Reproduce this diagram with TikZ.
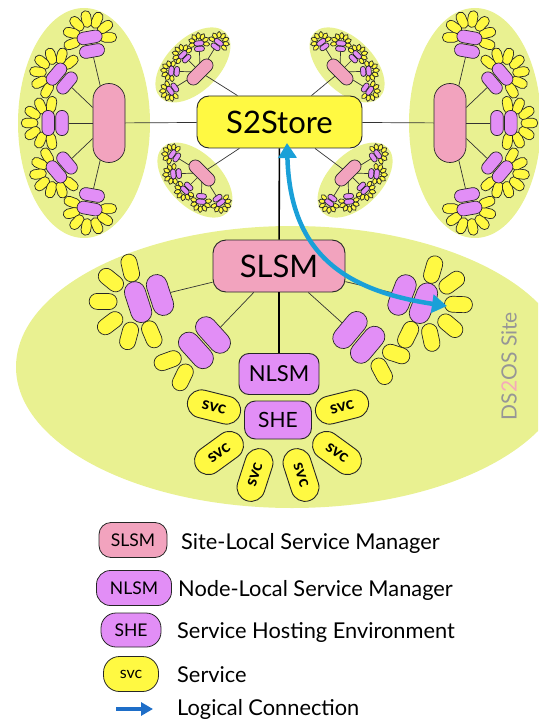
\documentclass[tikz,border=0pt]{standalone}
\usepackage{fontspec}
\setmainfont{Lato}
\usetikzlibrary{shapes.misc,arrows.meta}
\definecolor{sitegreen}{RGB}{233,241,145}
\definecolor{slsmpink}{RGB}{242,163,190}
\definecolor{nlsmpurple}{RGB}{226,142,246}
\definecolor{svcyellow}{RGB}{255,249,66}
\definecolor{arrowblue}{RGB}{26,160,216}
\definecolor{legendblue}{RGB}{30,110,200}
\definecolor{sitegray}{RGB}{150,150,150}
\definecolor{sitepink}{RGB}{245,170,185}
\tikzset{
  capsule/.style={rounded rectangle, draw=black!85, line width=0.7pt, inner sep=0pt, transform shape},
  pinkcap/.style={capsule, fill=slsmpink},
  purplecap/.style={capsule, fill=nlsmpurple, minimum width=42pt, minimum height=21pt},
  svccap/.style={capsule, fill=svcyellow, minimum width=28pt, minimum height=16pt},
  thinline/.style={draw=black!80, line width=0.7pt},
  thickline/.style={draw=black, line width=1.6pt},
  boxbase/.style={rectangle, draw=black!85, line width=0.9pt, inner sep=0pt},
  storebox/.style={boxbase, rounded corners=12pt, fill=svcyellow, minimum width=165pt, minimum height=52pt, font=\fontsize{31}{31}\selectfont},
  slsmbox/.style={boxbase, rounded corners=13pt, fill=slsmpink, minimum width=132pt, minimum height=52pt, font=\fontsize{31}{31}\selectfont},
  nlsmbox/.style={boxbase, rounded corners=10pt, fill=nlsmpurple, minimum width=80pt, minimum height=41pt, font=\fontsize{22}{22}\selectfont},
  shebox/.style={boxbase, rounded corners=11pt, fill=nlsmpurple, minimum width=67pt, minimum height=38pt, font=\fontsize{21}{21}\selectfont},
  svcbig/.style={rounded rectangle, draw=black!85, line width=0.9pt, inner sep=0pt, fill=svcyellow, minimum width=54pt, minimum height=28pt},
  svctext/.style={inner sep=0pt, font=\fontsize{17}{17}\selectfont\bfseries},
  legbox/.style={boxbase, line width=0.8pt, font=\fontsize{17.5}{17.5}\selectfont},
  legtext/.style={anchor=west, inner sep=0pt, font=\fontsize{21.8}{21.8}\selectfont},
  site/.pic={
    \fill[sitegreen] (-25,0) ellipse [x radius=66, y radius=115];
    \node[pinkcap, minimum width=79pt, minimum height=32pt, rotate=90] (-slsm) at (0,0) {};
    \foreach \i/\px/\py/\d in {1/-17/72/100, 2/-42/40/140, 3/-47/0/180, 4/-42/-40/220, 5/-17/-72/260}{
      \begin{scope}[shift={(\px,\py)}, rotate=\d, scale=0.6]
        \branch{-b\i}{31}{-100,-66,-33,0,33,66,100}
      \end{scope}
      \draw[thinline] (-slsm) -- (-b\i);
    }
  },
}
\newcommand\branch[3]{%
  \begin{scope}[shift={(23,0)}]
    \foreach \a in {#3}{\node[svccap, rotate=\a] at (\a:#2) {};}
    \node[purplecap, rotate=90] at (0,0) {};
  \end{scope}
  \node[purplecap, rotate=90] (#1) at (0,0) {};
}
\begin{document}
\begin{tikzpicture}[x=1pt,y=1pt]
\useasboundingbox (0,0) rectangle (538,-722);
% DS2OS site background
\begin{scope}
  \clip (0,0) rectangle (538,-722);
  \fill[sitegreen] (292,-367) ellipse [x radius=276, y radius=141];
\end{scope}
% other sites
\pic[rotate=0] (L) at (109,-123) {site};
\pic[rotate=180] (R) at (450,-123) {site};
\pic[rotate=-45, scale=0.4] (UL) at (200,-72) {site};
\pic[rotate=-135, scale=0.4] (UR) at (340,-72) {site};
\pic[rotate=45, scale=0.4] (LL) at (202,-173) {site};
\pic[rotate=135, scale=0.4] (LR) at (348,-173) {site};
% S2Store
\node[storebox] (S2) at (279.5,-122) {S2Store};
\foreach \s in {L,R,UL,UR,LL,LR}{\draw[thinline] (S2) -- (\s-slsm);}
% main site
\node[slsmbox] (SLSM) at (279,-266) {SLSM};
\draw[thickline] (S2) -- (SLSM);
\begin{scope}[shift={(160,-295)}, rotate=198] \branch{fl}{35}{-95,-57,-19,19,57,95} \end{scope}
\begin{scope}[shift={(213,-335)}, rotate=222] \branch{nl}{30}{-22,22} \end{scope}
\begin{scope}[shift={(350,-330)}, rotate=320] \branch{nr}{30}{-22,22} \end{scope}
\begin{scope}[shift={(402,-295)}, rotate=339] \branch{fr}{35}{-95,-57,-19,19,57,95} \end{scope}
\foreach \b in {fl,nl,nr,fr}{\draw[thinline] (SLSM) -- (\b);}
\node[nlsmbox] (NLSM) at (279,-374) {NLSM};
\draw[thickline] (SLSM) -- (NLSM);
\foreach \n/\r/\x/\y in {s1/-14/214/-407, s2/36/219/-453, s3/72/255/-475, s4/-72/301/-475, s5/-36/337/-453, s6/14/342/-407}{
  \node[svcbig, rotate=\r] (\n) at (\x,\y) {};
  \node[svctext, rotate=\r] (\n t) at (\n) {svc};
}
\node[shebox] (SHE) at (278,-420) {SHE};
\node[rotate=90, inner sep=0pt, font=\fontsize{21}{21}\selectfont] (site) at (509,-366)
  {\textcolor{sitegray}{DS}\textcolor{sitepink}{2}\textcolor{sitegray}{OS Site}};
% logical connection
\coordinate (atop) at (287,-143);
\coordinate (abot) at (447,-306);
\draw[arrowblue, line width=4.5pt, {Triangle[length=15pt,width=18pt]}-{Triangle[length=15pt,width=18pt]}]
  (atop) .. controls (290,-250) and (340,-290) .. (abot);
% legend
\node[legbox, rounded corners=12pt, fill=slsmpink, minimum width=68pt, minimum height=35pt] (k1) at (133,-540) {SLSM};
\node[legtext] (t1) at (181,-543) {Site-Local Service Manager};
\node[legbox, rounded corners=14pt, fill=nlsmpurple, minimum width=75pt, minimum height=35pt] (k2) at (134,-588) {NLSM};
\node[legtext] (t2) at (178,-590) {Node-Local Service Manager};
\node[legbox, rounded corners=15pt, fill=nlsmpurple, minimum width=60pt, minimum height=34pt] (k3) at (131,-630) {SHE};
\node[legtext] (t3) at (177,-632) {Service Hosting Environment};
\node[legbox, rounded corners=16pt, fill=svcyellow, minimum width=55pt, minimum height=35pt, font=\fontsize{16}{16}\selectfont] (k4) at (131,-674) {svc};
\node[legtext] (t4) at (177,-675) {Service};
\coordinate (k5a) at (116,-709);
\coordinate (k5b) at (153,-709);
\draw[legendblue, line width=3.5pt, -{Triangle[length=12pt,width=13pt]}] (k5a) -- (k5b);
\node[legtext] (t5) at (177,-709) {Logical Connection};
\end{tikzpicture}
\end{document}
